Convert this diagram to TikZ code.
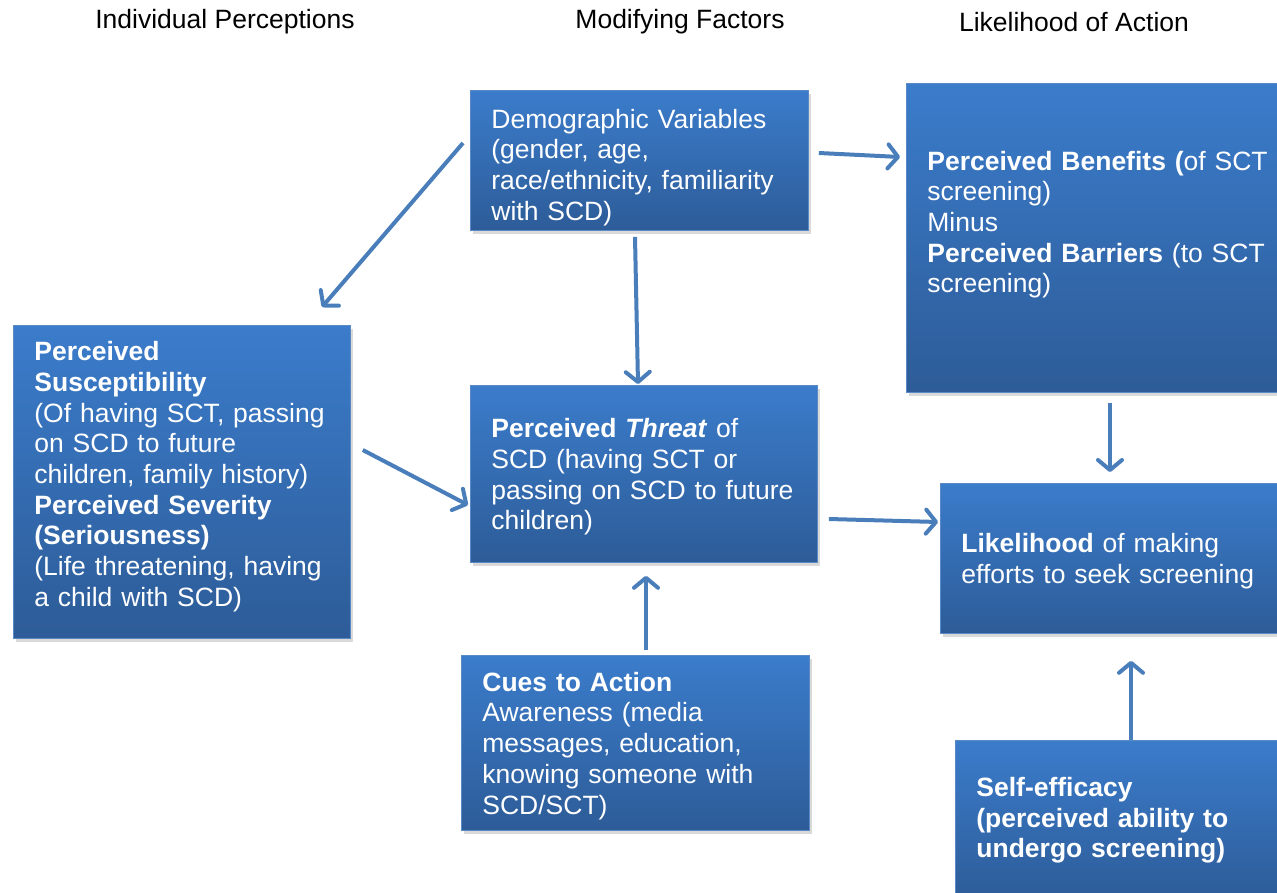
\documentclass[tikz,border=0pt]{standalone}
\usepackage{fontspec}
\setmainfont{Liberation Sans}
\usetikzlibrary{arrows.meta,calc,shadows}
\definecolor{boxtop}{HTML}{3B7CCB}
\definecolor{boxbot}{HTML}{2D5C98}
\definecolor{boxline}{HTML}{5A8AC6}
\definecolor{arrowblue}{HTML}{4A7EBB}

\begin{document}
\begin{tikzpicture}[x=1pt, y=-1pt,
    model/.style={rectangle, anchor=north west, draw=boxline, line width=0.8pt,
        top color=boxtop, bottom color=boxbot, text=white, align=left,
        inner xsep=21pt, inner ysep=0pt, font=\fontsize{26.5}{30.7}\selectfont,
        drop shadow={shadow xshift=3pt, shadow yshift=-4pt, opacity=0.3}},
    heading/.style={font=\fontsize{26.5}{30.7}\selectfont},
    link/.style={draw=arrowblue, line width=4pt,
        -{Straight Barb[length=10pt, width=24pt, round]}}]
    \useasboundingbox (0,0) rectangle (1277,893);
    \clip (0,0) rectangle (1277,893);
    % Headings
    \node[heading] (colone) at (225,22) {Individual Perceptions};
    \node[heading] (coltwo) at (680,22) {Modifying Factors};
    \node[heading] (colthree) at (1074,22) {Likelihood of Action};
    % Boxes
    \node[model, minimum width=338pt, minimum height=140pt, text width=296pt] (demo) at (470,90)
        {\rule{0pt}{33pt}Demographic Variables\\(gender, age,\\race/ethnicity, familiarity\\with SCD)};
    \node[model, minimum width=384pt, minimum height=309pt, text width=342pt] (benefit) at (906,83)
        {\textbf{Perceived Benefits (}of SCT\\screening)\\Minus\\\textbf{Perceived Barriers} (to SCT\\screening)\rule[-32pt]{0pt}{32pt}};
    \node[model, minimum width=337pt, minimum height=313pt, text width=295pt] (suscept) at (13,325)
        {\textbf{Perceived}\\\textbf{Susceptibility}\\(Of having SCT, passing\\on SCD to future\\children, family history)\\\textbf{Perceived Severity}\\\textbf{(Seriousness)}\\(Life threatening, having\\a child with SCD)\rule[-16pt]{0pt}{16pt}};
    \node[model, minimum width=347pt, minimum height=177pt, text width=305pt] (threat) at (470,385)
        {\rule{0pt}{25pt}\textbf{Perceived \textit{Threat}} of\\SCD (having SCT or\\passing on SCD to future\\children)};
    \node[model, minimum width=350pt, minimum height=150pt, text width=308pt] (likely) at (940,483)
        {\rule{0pt}{25pt}\textbf{Likelihood} of making\\efforts to seek screening};
    \node[model, minimum width=348pt, minimum height=175pt, text width=306pt] (cues) at (461,655)
        {\rule{0pt}{25pt}\textbf{Cues to Action}\\Awareness (media\\messages, education,\\knowing someone with\\SCD/SCT)};
    \node[model, minimum width=335pt, minimum height=160pt, text width=293pt] (selfeff) at (955,740)
        {\textbf{Self-efficacy}\\\textbf{(perceived ability to}\\\textbf{undergo screening)}};
    % Arrows
    \draw[link] ($(demo.north west)+(-7,53)$) -- ($(suscept.north west)+(309,-18)$);
    \draw[link] ($(demo.south west)+(165,6)$) -- ($(threat.north west)+(168,-1)$);
    \draw[link] ($(demo.north east)+(10,63)$) -- ($(benefit.north west)+(-6,74)$);
    \draw[link] ($(suscept.north east)+(12,125)$) -- ($(threat.north west)+(-2,120)$);
    \draw[link] ($(threat.north east)+(11,134)$) -- ($(likely.north west)+(-2,39)$);
    \draw[link] ($(benefit.south west)+(204,10)$) -- ($(likely.north west)+(170,-11)$);
    \draw[link] ($(cues.north west)+(185,-5)$) -- ($(threat.south west)+(176,13)$);
    \draw[link] ($(selfeff.north west)+(176,0)$) -- ($(likely.south west)+(191,27)$);
\end{tikzpicture}
\end{document}
